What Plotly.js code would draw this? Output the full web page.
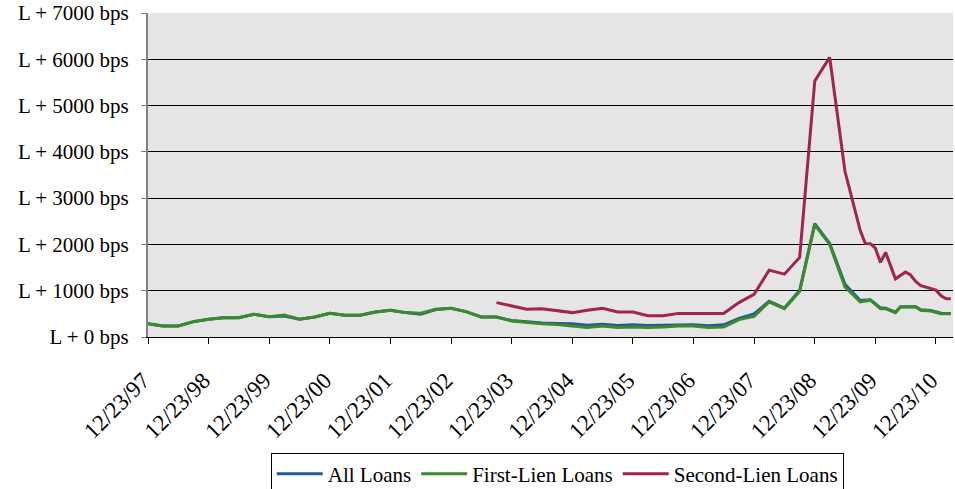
<!DOCTYPE html>
<html>
<head>
<meta charset="utf-8">
<script src="https://cdn.plot.ly/plotly-3.0.1.min.js"></script>
<style>html,body{margin:0;padding:0;background:#fff;}#chart{width:955px;height:489px;}</style>
</head>
<body>
<div id="chart"></div>
<script>
// Observation dates (quarterly, then monthly from late 2009)
var dates = [
 "1997-12-23","1998-03-23","1998-06-23","1998-09-23","1998-12-23","1999-03-23","1999-06-23","1999-09-23",
 "1999-12-23","2000-03-23","2000-06-23","2000-09-23","2000-12-23","2001-03-23","2001-06-23","2001-09-23",
 "2001-12-23","2002-03-23","2002-06-23","2002-09-23","2002-12-23","2003-03-23","2003-06-23","2003-09-23",
 "2003-12-23","2004-03-23","2004-06-23","2004-09-23","2004-12-23","2005-03-23","2005-06-23","2005-09-23",
 "2005-12-23","2006-03-23","2006-06-23","2006-09-23","2006-12-23","2007-03-23","2007-06-23","2007-09-23",
 "2007-12-23","2008-03-23","2008-06-23","2008-09-23","2008-12-23","2009-03-23","2009-06-23","2009-09-23",
 "2009-10-23","2009-11-23","2009-12-23","2010-01-23","2010-02-23","2010-03-23","2010-04-23","2010-05-23",
 "2010-06-23","2010-07-23","2010-08-23","2010-09-23","2010-10-23","2010-11-23","2010-12-23","2011-01-23",
 "2011-02-23","2011-03-23"
];

var allLoans = [
 288,238,238,332,384,418,418,492,
 440,455,384,433,514,470,470,542,
 579,527,492,595,622,548,433,433,
 355,320,300,290,285,255,275,250,
 262,248,258,265,262,245,262,400,
 500,770,625,1005,2450,2020,1140,790,
 null,805,null,630,620,null,535,655,
 null,null,655,590,null,572,null,512,
 null,510
];

var firstLien = [
 288,238,238,332,384,418,418,492,
 440,477,384,433,514,470,470,542,
 579,527,514,600,622,548,433,433,
 347,310,285,270,238,205,238,205,
 217,205,217,238,238,205,217,375,
 445,759,613,990,2430,2000,1080,760,
 null,795,null,613,613,null,527,650,
 null,null,650,579,null,563,null,505,
 null,505
];

var secondLien = [
 null,null,null,null,null,null,null,null,
 null,null,null,null,null,null,null,null,
 null,null,null,null,null,null,null,743,
 670,600,610,570,527,579,622,540,
 540,458,458,510,510,510,510,743,
 920,1445,1358,1719,5533,6040,3580,2300,
 2022,2015,1920,1611,1828,null,1257,null,
 1405,1340,1200,1110,null,null,1012,890,
 825,825
];

var seriesNames = ["All Loans","First-Lien Loans","Second-Lien Loans"];
var seriesColors = ["#25579A","#3B8B2B","#A2234F"];

var yTickVals = [0,1000,2000,3000,4000,5000,6000,7000];
var yTickText = ["L + 0 bps","L + 1000 bps","L + 2000 bps","L + 3000 bps","L + 4000 bps","L + 5000 bps","L + 6000 bps","L + 7000 bps"];

var xTickVals = ["1997-12-23","1998-12-23","1999-12-23","2000-12-23","2001-12-23","2002-12-23","2003-12-23",
 "2004-12-23","2005-12-23","2006-12-23","2007-12-23","2008-12-23","2009-12-23","2010-12-23"];
var xTickText = ["12/23/97","12/23/98","12/23/99","12/23/00","12/23/01","12/23/02","12/23/03",
 "12/23/04","12/23/05","12/23/06","12/23/07","12/23/08","12/23/09","12/23/10"];

var ys = [allLoans, firstLien, secondLien];
var traces = ys.map(function(y, i){
  return {
    x: dates, y: y, type: "scatter", mode: "lines",
    name: seriesNames[i], connectgaps: true,
    line: {color: seriesColors[i], width: 3}
  };
});

var fam = "Liberation Serif, Times New Roman, serif";
var font = {family: fam, size: 21, color: "#000"};

var layout = {
  width: 955, height: 489,
  margin: {l: 148, r: 2, t: 13, b: 152, pad: 0, autoexpand: false},
  paper_bgcolor: "#ffffff",
  plot_bgcolor: "#E5E5E5",
  font: font,
  showlegend: true,
  legend: {
    orientation: "h", xref: "container", x: 0.5835, xanchor: "center",
    yref: "container", y: 0.0745, yanchor: "top",
    bordercolor: "#000", borderwidth: 1, bgcolor: "#fff",
    font: font, itemwidth: 46, tracegroupgap: 0
  },
  xaxis: {
    type: "date", automargin: false,
    range: ["1997-12-23", "2011-04-05"],
    tickmode: "array", tickvals: xTickVals, ticktext: xTickText,
    tickangle: -45, ticks: "outside", ticklen: 6, tickcolor: "#000",
    showline: true, linecolor: "#000", linewidth: 1,
    showgrid: false, zeroline: false,
    tickfont: {family: fam, size: 23, color: "#000"},
    ticklabelstandoff: 14, ticklabelshift: -5
  },
  yaxis: {
    range: [0, 7000], automargin: false,
    tickmode: "array", tickvals: yTickVals, ticktext: yTickText,
    ticks: "outside", ticklen: 5, tickcolor: "#808080",
    showline: true, linecolor: "#808080", linewidth: 2,
    showgrid: true, gridcolor: "#000", gridwidth: 1,
    zeroline: false, tickfont: font, ticklabelstandoff: 8
  }
};

Plotly.newPlot("chart", traces, layout, {displayModeBar: false, staticPlot: true});
</script>
</body>
</html>
